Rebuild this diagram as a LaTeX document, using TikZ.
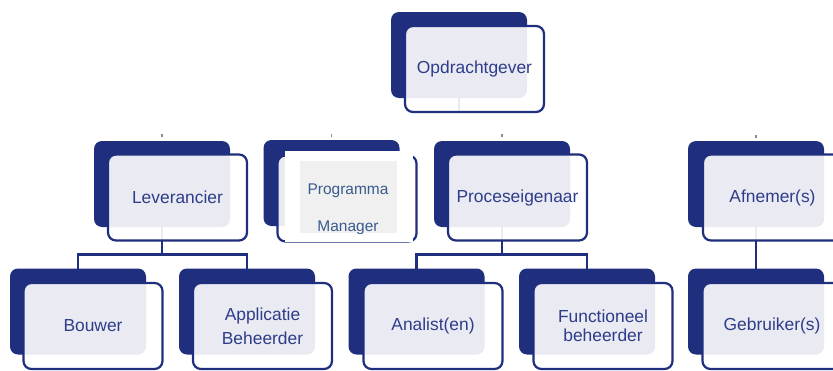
\documentclass[tikz,border=0pt]{standalone}
\usepackage{fontspec}
\setmainfont{Liberation Sans}
\usetikzlibrary{calc}
\definecolor{navy}{HTML}{1F2F7E}
\definecolor{txtblue}{HTML}{2E3D8A}
\definecolor{pmblue}{HTML}{3A5A8F}
\definecolor{pmgrey}{HTML}{F0F0F0}
\definecolor{tickgrey}{HTML}{8A8A8A}
\begin{document}
\begin{tikzpicture}[x=1pt,y=-1pt,
  backbox/.style={rectangle, fill=navy, rounded corners=8pt, minimum width=136pt, minimum height=86pt, inner sep=0pt, outer sep=0pt},
  frontbox/.style={rectangle, draw=navy, line width=2.2pt, fill=white, fill opacity=0.9, text opacity=1, draw opacity=1, rounded corners=8pt, minimum width=139pt, minimum height=86pt, inner sep=0pt, outer sep=0pt, text=txtblue, font=\fontsize{17.4}{21}\selectfont, align=center},
  link/.style={draw=navy, line width=2.4pt},
  tickmark/.style={draw=tickgrey, line width=1.5pt},
  pmtext/.style={text=pmblue, font=\fontsize{15.5}{18}\selectfont, anchor=base, inner sep=0pt}]
\useasboundingbox (0,0) rectangle (833,370);
\fill[white] (0,0) rectangle (833,370);
% back boxes
\node[backbox] (topb) at (459,55) {};
\node[backbox] (levb) at (162,184) {};
\node[backbox] (pmb) at (331.5,183) {};
\node[backbox] (procb) at (502,184) {};
\node[backbox] (afnb) at (756,184) {};
\node[backbox] (boub) at (78,311.5) {};
\node[backbox] (appb) at (247,311.5) {};
\node[backbox] (anab) at (416.5,311.5) {};
\node[backbox] (funcb) at (587,311.5) {};
\node[backbox] (gebb) at (756,311.5) {};
% connectors
\draw[link] (topb.south) -- ++(0,15);
\draw[link] (levb.south) -- ++(0,27.5) -| (boub.north);
\draw[link] (levb.south) ++(0,27.5) -| (appb.north);
\draw[link] (procb.south) -- ++(0,27.5) -| (anab.north);
\draw[link] (procb.south) ++(0,27.5) -| (funcb.north);
\draw[link] (afnb.south) -- (gebb.north);
% small remnants above the second row
\draw[tickmark] (levb.north) ++(0,-7) -- ++(0,3);
\draw[tickmark] (pmb.north) ++(0,-6) -- ++(0,3);
\draw[tickmark] (procb.north) ++(0,-7) -- ++(0,3);
\draw[tickmark] (afnb.north) ++(0,-6) -- ++(0,3);
% front boxes
\node[frontbox] (topf) at (474.5,69) {Opdrachtgever};
\node[frontbox] (levf) at (177.5,197.5) {Leverancier};
\node[frontbox] (pmf) at (347,198.5) {};
\node[frontbox] (procf) at (517.5,197.5) {Proceseigenaar};
\node[frontbox] (afnf) at (772.5,197.5) {Afnemer(s)};
\node[frontbox] (bouf) at (93,326) {Bouwer};
\node[frontbox, font=\fontsize{17.4}{24}\selectfont] (appf) at (262.5,326) {Applicatie\\Beheerder};
\node[frontbox, font=\fontsize{17.4}{19}\selectfont] (funcf) at (603,326) {Functioneel\\beheerder};
\node[frontbox] (anaf) at (433,326) {Analist(en)};
\node[frontbox] (gebf) at (772,326) {Gebruiker(s)};
% Programma Manager overlay
\fill[white] (285,151) rectangle (413,242);
\fill[pmgrey] (300,161) rectangle (397,233);
\begin{scope}
  \clip (300,161) rectangle (397,233);
  \node[pmtext] (pmt1) at (348,194) {Programma};
  \node[pmtext] (pmt2) at (348,231.5) {Manager};
\end{scope}
\end{tikzpicture}
\end{document}
